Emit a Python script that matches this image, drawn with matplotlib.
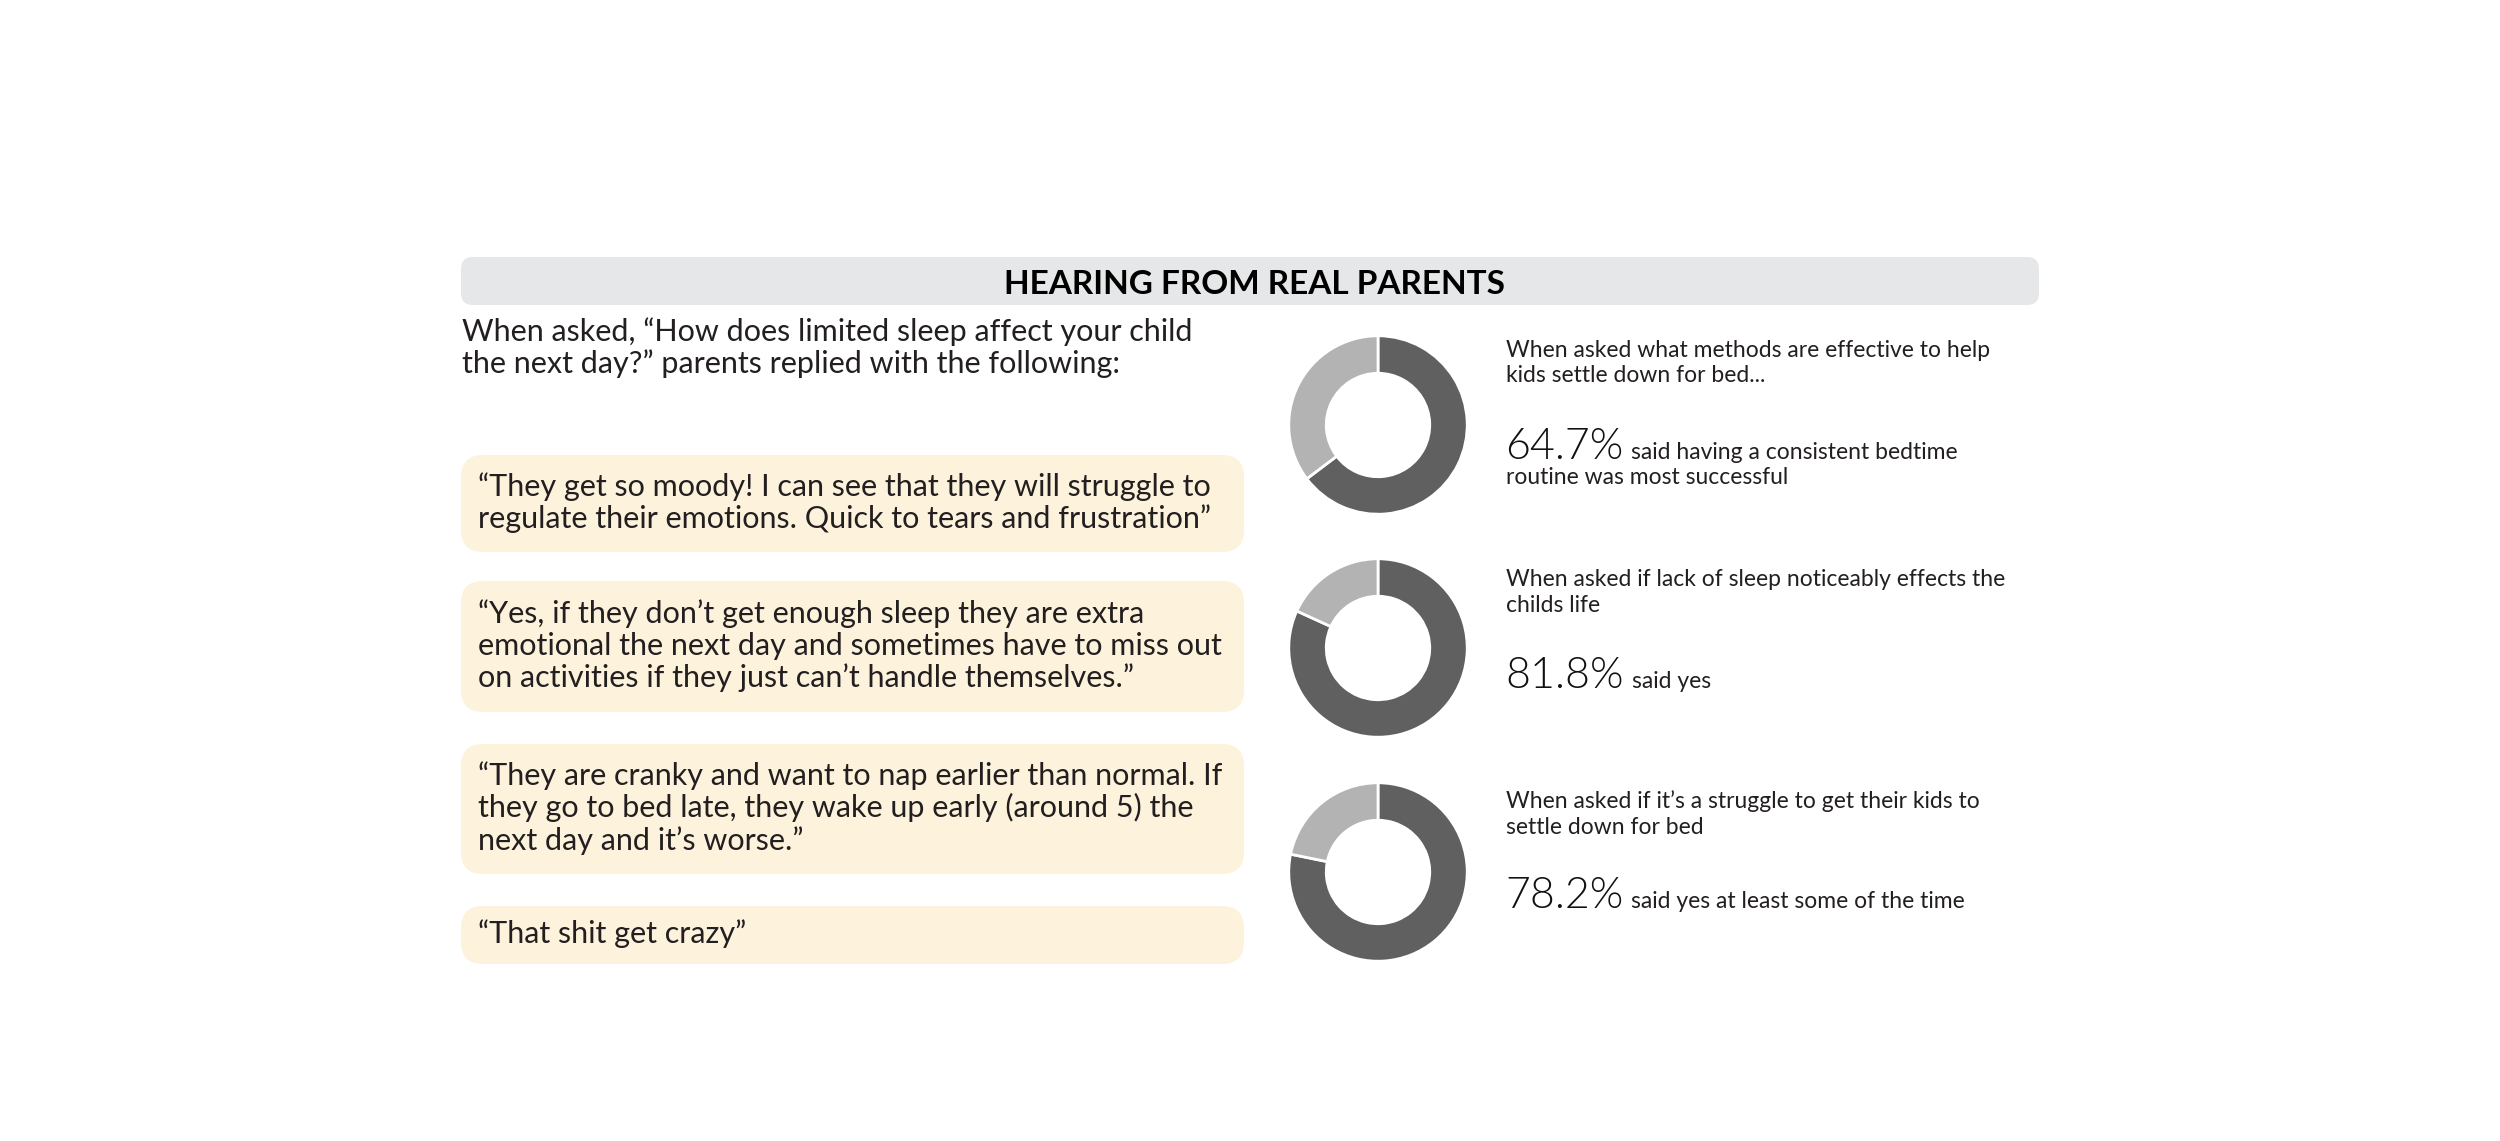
import numpy as np
import matplotlib
matplotlib.use("Agg")
import matplotlib.pyplot as plt
from matplotlib.patches import FancyBboxPatch

W, H = 2500, 1141

title = "HEARING FROM REAL PARENTS"
intro_lines = ["When asked, \u201cHow does limited sleep affect your child",
               "the next day?\u201d parents replied with the following:"]

quotes = [
    ["\u201cThey get so moody! I can see that they will struggle to",
     "regulate their emotions. Quick to tears and frustration\u201d"],
    ["\u201cYes, if they don\u2019t get enough sleep they are extra",
     "emotional the next day and sometimes have to miss out",
     "on activities if they just can\u2019t handle themselves.\u201d"],
    ["\u201cThey are cranky and want to nap earlier than normal. If",
     "they go to bed late, they wake up early (around 5) the",
     "next day and it\u2019s worse.\u201d"],
    ["\u201cThat shit get crazy\u201d"],
]

questions = [
    ["When asked what methods are effective to help", "kids settle down for bed..."],
    ["When asked if lack of sleep noticeably effects the", "childs life"],
    ["When asked if it\u2019s a struggle to get their kids to", "settle down for bed"],
]
pct_yes = [64.7, 81.8, 78.2]
answers = [
    ["said having a consistent bedtime", "routine was most successful"],
    ["said yes"],
    ["said yes at least some of the time"],
]

# layout (pixels)
box_top = [455, 581, 744, 906]
box_h = [97, 131, 130, 58]
donut_cy = [425, 648, 872]
q_base = [357, 586, 808]
num_base = [459, 688, 908]

dark = "#606060"
light = "#b3b3b3"
txt = "#231f20"
font = "Lato"

fig = plt.figure(figsize=(W / 100, H / 100), dpi=100)
ax = fig.add_axes([0, 0, 1, 1])
ax.set_xlim(0, W)
ax.set_ylim(H, 0)
ax.axis("off")

# header bar
ax.add_patch(FancyBboxPatch((461, 257), 1578, 48,
                            boxstyle="round,pad=0,rounding_size=12",
                            fc="#e6e7e8", ec="none"))
ax.text(1255, 294, title, ha="center", va="baseline", fontsize=24,
        fontweight="bold", family=font, color="black")

for i, line in enumerate(intro_lines):
    ax.text(462, 341 + i * 32, line, va="baseline", fontsize=22,
            family=font, color=txt)

# quote boxes
for top, h, lines in zip(box_top, box_h, quotes):
    ax.add_patch(FancyBboxPatch((461, top), 783, h,
                                boxstyle="round,pad=0,rounding_size=22",
                                fc="#fdf3dc", ec="none"))
    mid = top + h / 2 + 8.5
    n = len(lines)
    for j, line in enumerate(lines):
        ax.text(478, mid + (j - (n - 1) / 2) * 32.5, line, va="baseline",
                fontsize=22, family=font, color=txt)

# donuts
r = 91
cx = 1378
for cy, p in zip(donut_cy, pct_yes):
    dax = fig.add_axes([(cx - r) / W, 1 - (cy + r) / H, 2 * r / W, 2 * r / H])
    dax.pie([p, 100 - p], colors=[dark, light], startangle=90,
            counterclock=False, radius=1,
            wedgeprops=dict(width=0.42, edgecolor="white", linewidth=2))
    dax.set_xlim(-1.02, 1.02)
    dax.set_ylim(-1.02, 1.02)

# right-hand text
renderer = fig.canvas.get_renderer()
for qb, nb, q, p, ans in zip(q_base, num_base, questions, pct_yes, answers):
    for j, line in enumerate(q):
        ax.text(1506, qb + j * 25.5, line, va="baseline", fontsize=16.5,
                family=font, color=txt)
    t = ax.text(1505, nb, f"{p}%", va="baseline", fontsize=31,
                family=font, fontweight=300, color="#111111")
    bw = t.get_window_extent(renderer=renderer).width
    ax.text(1505 + bw + 8, nb, ans[0], va="baseline", fontsize=16.5,
            family=font, color=txt)
    for j, line in enumerate(ans[1:]):
        ax.text(1506, nb + (j + 1) * 25, line, va="baseline", fontsize=16.5,
                family=font, color=txt)

fig.savefig("out.png", dpi=100, facecolor="white")
